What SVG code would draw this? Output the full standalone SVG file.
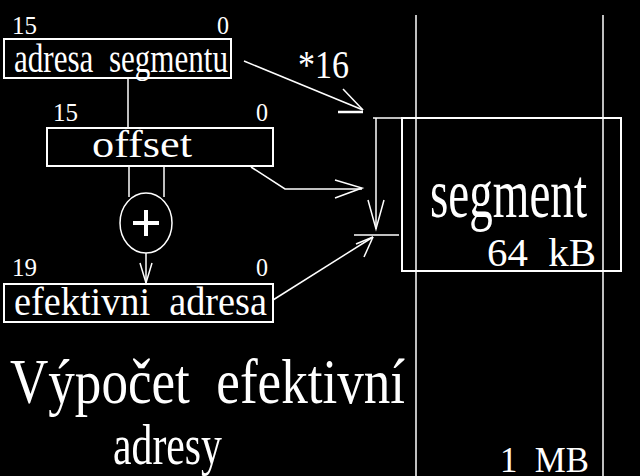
<svg xmlns="http://www.w3.org/2000/svg" width="640" height="476" viewBox="0 0 640 476">
<style>
.ln{stroke:#fff;stroke-width:1.5;fill:none}
.bx{stroke:#fff;stroke-width:2;fill:none}
text{fill:#fff;font-family:"Liberation Serif","DejaVu Serif",serif;white-space:pre}
</style>
<rect width="640" height="476" fill="#000"/>
<g id="memory">
<line class="ln" x1="416" y1="15" x2="416" y2="476"/>
<line class="ln" x1="603" y1="15" x2="603" y2="476"/>
<text x="500" y="472" font-size="36" textLength="89" lengthAdjust="spacingAndGlyphs" xml:space="preserve">1  MB</text>
</g>
<g id="segment">
<rect class="bx" x="402" y="118" width="219" height="153"/>
<text x="430" y="217" font-size="70" textLength="157" lengthAdjust="spacingAndGlyphs">segment</text>
<text x="487" y="266" font-size="40" textLength="109" lengthAdjust="spacingAndGlyphs" xml:space="preserve">64  kB</text>
</g>
<g id="adresa-segmentu">
<rect class="bx" x="4" y="39" width="227" height="39"/>
<text x="14" y="72" font-size="40" textLength="214" lengthAdjust="spacingAndGlyphs" xml:space="preserve">adresa  segmentu</text>
<text x="12" y="34" font-size="26" textLength="25" lengthAdjust="spacingAndGlyphs">15</text>
<text x="217" y="34" font-size="26" textLength="12" lengthAdjust="spacingAndGlyphs">0</text>
</g>
<g id="offset">
<rect class="bx" x="47" y="128" width="226" height="38"/>
<text x="92" y="157" font-size="38" textLength="100" lengthAdjust="spacingAndGlyphs">offset</text>
<text x="53" y="121" font-size="26" textLength="25" lengthAdjust="spacingAndGlyphs">15</text>
<text x="256" y="121" font-size="26" textLength="12" lengthAdjust="spacingAndGlyphs">0</text>
</g>
<g id="adder">
<ellipse class="ln" cx="146" cy="223" rx="26" ry="30"/>
<line x1="133" y1="223" x2="159" y2="223" stroke="#fff" stroke-width="4"/>
<line x1="146" y1="210" x2="146" y2="236" stroke="#fff" stroke-width="4"/>
</g>
<g id="efektivni-adresa">
<rect class="bx" x="4" y="284" width="269" height="38"/>
<text x="14" y="315" font-size="40" textLength="253" lengthAdjust="spacingAndGlyphs" xml:space="preserve">efektivni  adresa</text>
<text x="12" y="276" font-size="26" textLength="25" lengthAdjust="spacingAndGlyphs">19</text>
<text x="256" y="276" font-size="26" textLength="12" lengthAdjust="spacingAndGlyphs">0</text>
</g>
<g id="title">
<text x="10" y="403" font-size="64" textLength="395" lengthAdjust="spacingAndGlyphs" xml:space="preserve">Výpočet  efektivní</text>
<text x="113" y="464" font-size="58" textLength="109" lengthAdjust="spacingAndGlyphs">adresy</text>
</g>
<g id="connectors">
<line class="ln" x1="128" y1="78" x2="128" y2="128"/>
<line class="ln" x1="129" y1="166" x2="129" y2="197"/>
<line class="ln" x1="164" y1="166" x2="164" y2="197"/>
<line class="ln" x1="146" y1="253" x2="146" y2="284"/>
<polyline class="ln" points="140,263 146,283 152,263"/>
<line class="ln" x1="244" y1="61" x2="363" y2="110"/>
<line class="ln" x1="343" y1="89" x2="363" y2="110"/>
<line x1="338" y1="112" x2="363" y2="112" stroke="#fff" stroke-width="2.5"/>
<text x="298" y="78" font-size="41" textLength="51" lengthAdjust="spacingAndGlyphs">*16</text>
<polyline class="ln" points="251,167 285,189 362,189"/>
<polyline class="ln" points="335,180 362,188 335,198"/>
<line class="ln" x1="373" y1="118" x2="402" y2="118"/>
<line class="ln" x1="376" y1="118" x2="376" y2="229"/>
<polyline class="ln" points="368,200 376,229 384,200"/>
<line class="ln" x1="354" y1="235" x2="399" y2="235"/>
<line class="ln" x1="273" y1="300" x2="373" y2="237"/>
<line class="ln" x1="373" y1="237" x2="364" y2="257"/>
<line class="ln" x1="373" y1="237" x2="356" y2="244"/>
</g>
</svg>
